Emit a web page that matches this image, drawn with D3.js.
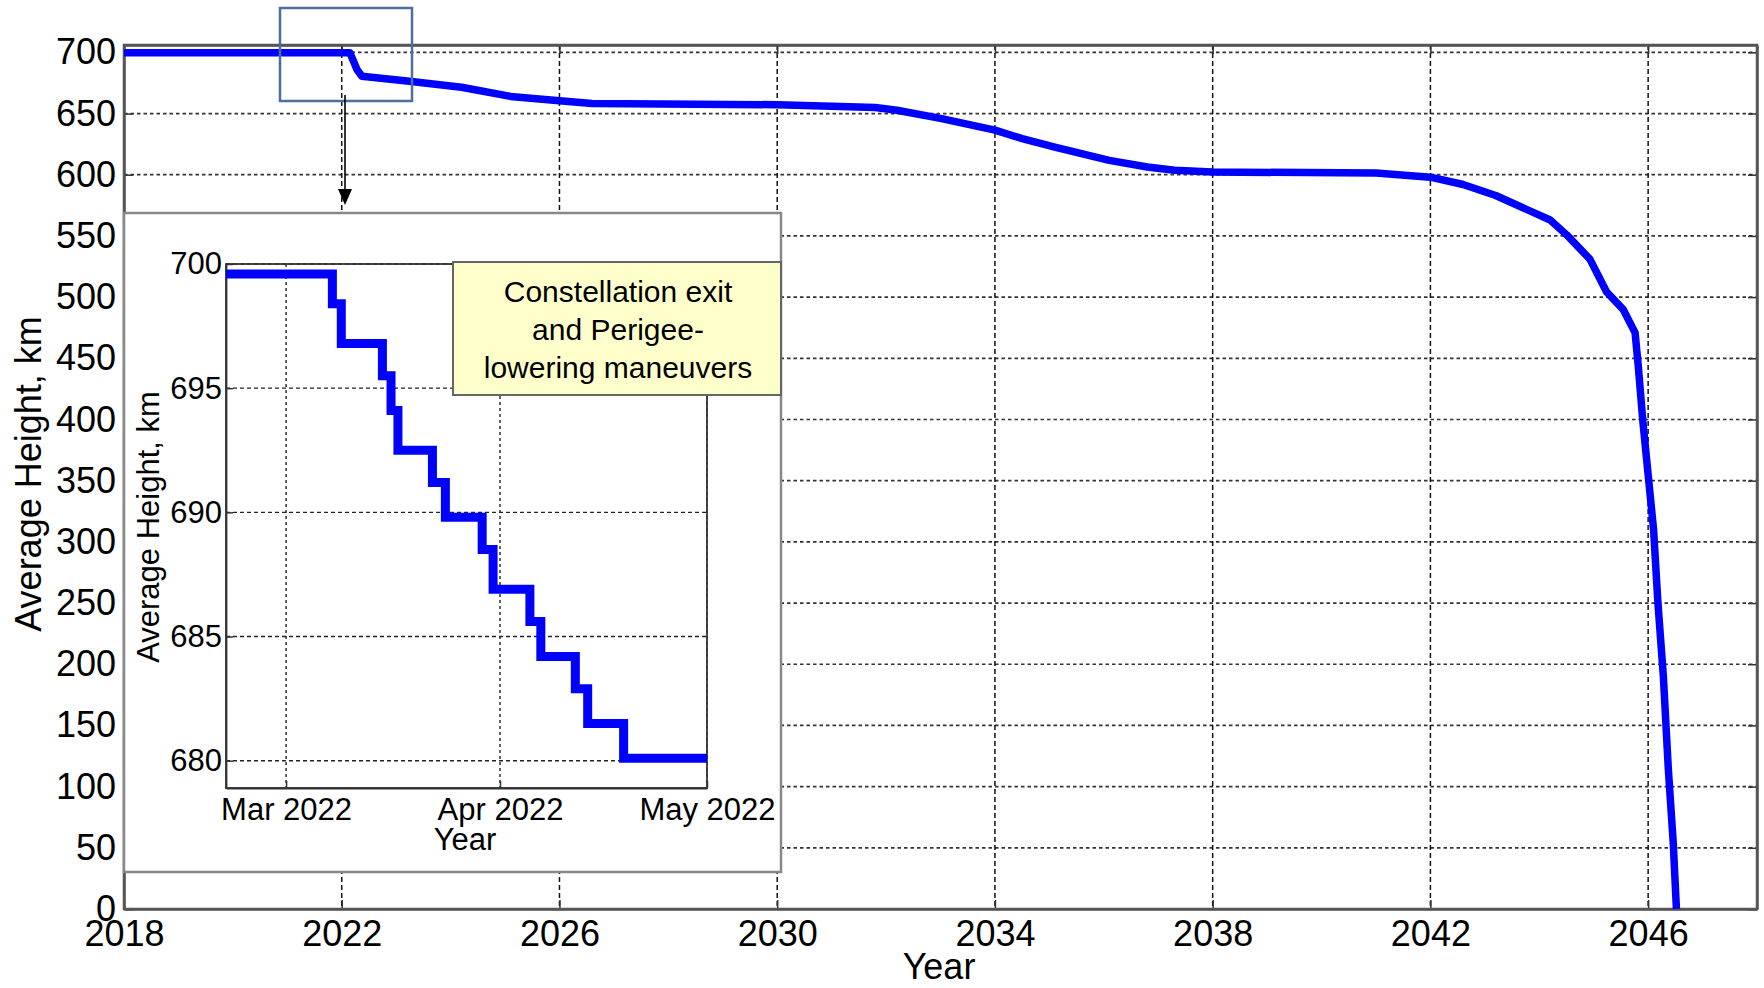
<!DOCTYPE html>
<html>
<head>
<meta charset="utf-8">
<script src="https://cdn.jsdelivr.net/npm/d3@7"></script>
<style>
  body { margin: 0; background: #fff; }
  text { font-family: "Liberation Sans", Arial, sans-serif; fill: #000; }
</style>
</head>
<body>
<svg id="chart" width="1764" height="988"></svg>
<script>
// main curve: year vs average height (km)
var years = [2018, 2022.15, 2022.28, 2022.37, 2023.2, 2024.2, 2025.1, 2026, 2026.6, 2030, 2031, 2031.8,
  2032.2, 2033, 2034, 2034.5, 2035.1, 2036.1, 2036.8, 2037.3, 2038, 2041, 2042, 2042.6, 2043.2, 2044.2,
  2044.5, 2044.93, 2045.24, 2045.54, 2045.76, 2045.82, 2045.9, 2046.0, 2046.1, 2046.18, 2046.28,
  2046.37, 2046.46, 2046.52];
var heights = [699.7, 699.7, 686, 680.5, 676.5, 671.5, 664, 660.5, 658.2, 657.2, 656, 655,
  652.7, 646, 636.5, 629.5, 622.5, 611.7, 606.3, 603.6, 602.2, 601.4, 598, 592, 583, 563,
  551, 531, 504, 490, 471, 443, 400, 355, 310, 250, 190,
  115, 55, 0];

// zoomed inset: stepwise lowering, Feb-May 2022
var insetDates = ["2022-02-20T07:00", "2022-03-07T17:00", "2022-03-09T00:00", "2022-03-14T23:00",
  "2022-03-16T05:00", "2022-03-17T05:00", "2022-03-22T05:00", "2022-03-24T02:00", "2022-03-29T10:00",
  "2022-03-31T00:00", "2022-04-05T08:00", "2022-04-06T22:00", "2022-04-11T22:00", "2022-04-13T17:00",
  "2022-04-18T22:00", "2022-05-01T00:00"];
var insetHeights = [699.6, 698.4, 696.8, 695.5, 694.1, 692.5, 691.2, 689.8, 688.5,
  686.9, 685.6, 684.2, 682.9, 681.5, 680.1, 680.1];

var xTickYears = [2018, 2022, 2026, 2030, 2034, 2038, 2042, 2046];
var yTickHeights = [0, 50, 100, 150, 200, 250, 300, 350, 400, 450, 500, 550, 600, 650, 700];
var insetXTicks = ["2022-03-01", "2022-04-01", "2022-05-01"];
var insetYTicks = [680, 685, 690, 695, 700];
var noteLines = ["Constellation exit", "and Perigee-", "lowering maneuvers"];

var svg = d3.select("#chart");
var parseDate = d3.timeParse("%Y-%m-%dT%H:%M");
var parseDay = d3.timeParse("%Y-%m-%d");

// ---------- main plot ----------
var L = 124, R = 1757, T = 45, B = 909;
var x = d3.scaleLinear().domain([2018, 2048]).range([L, R]);
var y = d3.scaleLinear().domain([0, 706]).range([B, T]);

var main = svg.append("g");

// grid
main.append("g").selectAll("line").data(yTickHeights.slice(1)).enter().append("line")
  .attr("x1", L).attr("x2", R)
  .attr("y1", function(d) { return y(d); }).attr("y2", function(d) { return y(d); })
  .attr("stroke", "#333").attr("stroke-width", 1.7).attr("stroke-dasharray", "3.5,3");
main.append("g").selectAll("line").data(xTickYears.slice(1)).enter().append("line")
  .attr("y1", T).attr("y2", B)
  .attr("x1", function(d) { return x(d); }).attr("x2", function(d) { return x(d); })
  .attr("stroke", "#111").attr("stroke-width", 1.5).attr("stroke-dasharray", "5,3");

// axes (ticks inward, matlab style)
var xAxis = d3.axisBottom(x).tickValues(xTickYears).tickFormat(d3.format("d"))
  .tickSizeInner(-9).tickSizeOuter(0).tickPadding(11);
var yAxis = d3.axisLeft(y).tickValues(yTickHeights).tickFormat(d3.format("d"))
  .tickSizeInner(-9).tickSizeOuter(0).tickPadding(8);

main.append("g").attr("transform", "translate(0," + B + ")").call(xAxis);
main.append("g").attr("transform", "translate(" + L + ",0)").call(yAxis);
main.append("g").attr("transform", "translate(0," + T + ")")
  .call(d3.axisTop(x).tickValues(xTickYears).tickFormat("").tickSizeInner(-9).tickSizeOuter(0));
main.append("g").attr("transform", "translate(" + R + ",0)")
  .call(d3.axisRight(y).tickValues(yTickHeights).tickFormat("").tickSizeInner(-9).tickSizeOuter(0));
main.selectAll(".domain").attr("stroke", "#555").attr("stroke-width", 2.5);
main.selectAll(".tick line").attr("stroke", "#333").attr("stroke-width", 1.5);
main.selectAll(".tick text").style("font-size", "36px").style("font-family", "'Liberation Sans', Arial, sans-serif");
main.append("rect").attr("x", L).attr("y", T).attr("width", R - L).attr("height", B - T)
  .attr("fill", "none").attr("stroke", "#555").attr("stroke-width", 2.5);

// curve
var mainLine = d3.line()
  .x(function(d, i) { return x(years[i]); })
  .y(function(d) { return y(d); });
main.append("path").datum(heights).attr("d", mainLine)
  .attr("fill", "none").attr("stroke", "#0000ff").attr("stroke-width", 7.5).attr("stroke-linejoin", "round");

main.append("text").attr("x", 939).attr("y", 979).attr("text-anchor", "middle")
  .style("font-size", "36px").text("Year");
main.append("text").attr("transform", "translate(28,474) rotate(-90)").attr("text-anchor", "middle")
  .attr("dy", "0.35em").style("font-size", "36px").text("Average Height, km");

// highlight box and arrow
main.append("rect").attr("x", 280).attr("y", 8).attr("width", 132).attr("height", 93)
  .attr("fill", "none").attr("stroke", "#4d6f9c").attr("stroke-width", 2.5);
main.append("line").attr("x1", 345).attr("x2", 345).attr("y1", 95).attr("y2", 192)
  .attr("stroke", "#000").attr("stroke-width", 1.6);
main.append("path").attr("d", "M338,189 L352,189 L345,205 Z").attr("fill", "#000");

// ---------- inset ----------
var inset = svg.append("g");
inset.append("rect").attr("x", 124).attr("y", 213).attr("width", 657).attr("height", 659)
  .attr("fill", "#fff").attr("stroke", "#888").attr("stroke-width", 2.5);

var iL = 226, iR = 707, iT = 264, iB = 788;
var ix = d3.scaleTime().domain([parseDate(insetDates[0]), parseDay("2022-05-01")]).range([iL, iR]);
var iy = d3.scaleLinear().domain([678.9, 700]).range([iB, iT]);
var xTicks = insetXTicks.map(parseDay);

inset.append("g").selectAll("line").data(insetYTicks).enter().append("line")
  .attr("x1", iL).attr("x2", iR)
  .attr("y1", function(d) { return iy(d); }).attr("y2", function(d) { return iy(d); })
  .attr("stroke", "#222").attr("stroke-width", 1.4).attr("stroke-dasharray", "4,3");
inset.append("g").selectAll("line").data(xTicks).enter().append("line")
  .attr("y1", iT).attr("y2", iB)
  .attr("x1", function(d) { return ix(d); }).attr("x2", function(d) { return ix(d); })
  .attr("stroke", "#222").attr("stroke-width", 1.4).attr("stroke-dasharray", "3,3");

var ixAxis = d3.axisBottom(ix).tickValues(xTicks).tickFormat(d3.timeFormat("%b %Y"))
  .tickSizeInner(-7).tickSizeOuter(0).tickPadding(10);
var iyAxis = d3.axisLeft(iy).tickValues(insetYTicks).tickFormat(d3.format("d"))
  .tickSizeInner(-7).tickSizeOuter(0).tickPadding(4);
inset.append("g").attr("transform", "translate(0," + iB + ")").call(ixAxis);
inset.append("g").attr("transform", "translate(" + iL + ",0)").call(iyAxis);
inset.selectAll(".domain").attr("stroke", "#333").attr("stroke-width", 1.8);
inset.selectAll(".tick line").attr("stroke", "#333").attr("stroke-width", 1.5);
inset.selectAll(".tick text").style("font-size", "31px").style("font-family", "'Liberation Sans', Arial, sans-serif");
inset.append("rect").attr("x", iL).attr("y", iT).attr("width", iR - iL).attr("height", iB - iT)
  .attr("fill", "none").attr("stroke", "#333").attr("stroke-width", 1.8);

var insetLine = d3.line().curve(d3.curveStepAfter)
  .x(function(d, i) { return ix(parseDate(insetDates[i])); })
  .y(function(d) { return iy(d); });
inset.append("path").datum(insetHeights).attr("d", insetLine)
  .attr("fill", "none").attr("stroke", "#0000ff").attr("stroke-width", 9).attr("stroke-linejoin", "miter");

inset.append("text").attr("x", 465).attr("y", 850).attr("text-anchor", "middle")
  .style("font-size", "31px").text("Year");
inset.append("text").attr("transform", "translate(148,527) rotate(-90)").attr("text-anchor", "middle")
  .attr("dy", "0.35em").style("font-size", "31px").text("Average Height, km");

// note box
var note = svg.append("g");
note.append("rect").attr("x", 453).attr("y", 262).attr("width", 328).attr("height", 133)
  .attr("fill", "#ffffcc").attr("stroke", "#666").attr("stroke-width", 2);
note.selectAll("text").data(noteLines).enter().append("text")
  .attr("x", 618).attr("y", function(d, i) { return 302 + i * 38; })
  .attr("text-anchor", "middle").style("font-size", "30px")
  .text(function(d) { return d; });
</script>
</body>
</html>
